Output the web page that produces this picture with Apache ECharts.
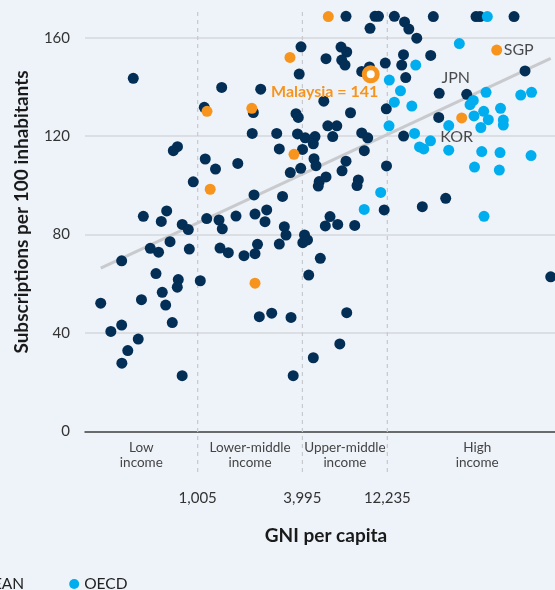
<!DOCTYPE html>
<html>
<head>
<meta charset="utf-8">
<script src="https://cdn.jsdelivr.net/npm/echarts@6/dist/echarts.min.js"></script>
<style>html,body{margin:0;padding:0;background:#eef3f9;}#c{width:555px;height:590px;}</style>
</head>
<body>
<div id="c"></div>
<script>
// ---- Data (GNI per capita in US$, subscriptions per 100 inhabitants) ----
const otherGni = [430,1379,1096,770,729,1110,1271,1705,948,668,
491,622,1132,1331,1665,820,888,1390,698,538,
600,900,369,1349,1505,1850,580,778,768,1040,
280,479,630,659,719,369,320,459,400,370,
819,2139,2440,2496,3148,3219,5748,5403,6362,7960,
4108,4017,4273,2211,2139,2946,5058,4342,2264,2666,
3438,7164,6540,4612,3539,7098,10400,10890,13420,9740,
15350,16240,18030,22430,39380,41510,65000,3922,6645,7164,
5453,6707,7005,3830,8730,9670,11910,15140,14790,21670,
15590,2306,5297,2092,3672,3784,7532,12070,5584,6286,
5957,2062,2847,3746,4146,4716,4612,2946,4001,8730,
9447,9033,15160,4655,4779,3907,3406,7098,6734,12100,
4985,5453,4925,8347,8206,2111,3074,11740,19400,26410,
75120,24240,34830,24080,105400];
const otherSubs = [143.5,139.8,131.7,115.7,114.1,110.7,106.6,108.9,101.4,89.6,
87.4,85.3,86.5,85.9,87.5,84.1,82.0,82.3,77.1,74.4,
72.8,74.1,69.3,74.5,72.6,71.4,64.1,61.7,58.6,61.2,
52.1,53.5,56.5,51.3,44.2,43.2,40.6,37.5,32.8,27.7,
22.6,88.3,85.2,90.0,83.2,79.8,87.3,83.5,84.1,83.7,
79.8,76.7,77.8,76.0,72.2,76.1,70.3,63.5,46.6,48.0,
46.3,48.2,35.5,29.9,22.6,168.7,168.7,168.7,168.7,163.8,
166.4,163.5,159.8,168.6,168.6,168.6,168.6,156.3,156.2,154.2,
151.5,150.9,148.9,145.2,146.3,148.1,149.7,153.1,148.9,152.8,
143.8,139.1,134.2,129.6,129.1,127.6,129.5,131.1,124.2,124.2,
119.8,121.1,121.1,120.9,119.3,119.8,116.9,114.8,114.6,121.3,
119.3,114.1,120.0,110.8,108.0,106.9,105.2,109.8,105.9,107.9,
101.5,103.4,99.7,102.2,99.9,96.1,95.5,90.0,91.3,94.7,
146.5,137.4,137.0,127.6,62.8];

const aseanGni = [1136,1185,2051,2139,5621,3392,3576,32610,51720];
const aseanSubs = [130.1,98.4,131.3,60.2,168.6,152.0,112.6,127.4,155.0];

const oecdGni = [12560,14550,13420,16890,12510,17790,31600,17510,21610,18700,
19770,27480,27480,44930,36390,37990,38350,43580,46300,41950,
54380,56420,56420,70980,81860,42450,54020,81330,38600,53530,
45700,11210,9020,43750];
const oecdSubs = [142.8,138.4,133.8,132.2,124.2,148.9,157.6,121.1,118.1,115.6,
114.8,124.3,114.3,137.8,132.8,134.5,128.2,130.1,126.7,123.5,
131.3,126.5,124.5,136.7,137.8,113.7,113.3,112.1,107.4,106.2,
168.6,97.1,90.2,87.4];

const malaysiaGni = [9830];
const malaysiaSubs = [145.1];
const malaysiaLabel = 'Malaysia = 141';

const calloutNames = ['SGP','JPN','KOR'];
const calloutGni = [51720, 34830, 32610];
const calloutSubs = [155.0, 137.0, 127.4];

const trendGni = [280, 105400];
const trendSubs = [66.3, 151.6];

const thresholds = [1005, 3995, 12235];
const thresholdLabels = ['1,005', '3,995', '12,235'];
const incomeGroups = ['Low\nincome', 'Lower-middle\nincome', 'Upper-middle\nincome', 'High\nincome'];
const yTicks = [0, 40, 80, 120, 160];

// ---- Styles ----
const NAVY = '#032e55', ORANGE = '#f7941d', BLUE = '#00aeef';
const FONT = 'Lato';
const calloutOffsets = { SGP: [22, 0], JPN: [-11, -16.5], KOR: [-5, 18.7] };
const xMin = 227.6, xMax = 111500, yMax = 172;
const highEdge = 130650; // notional right edge of the "High income" band

const zip = (a, b) => a.map((v, i) => [v, b[i]]);

const chart = echarts.init(document.getElementById('c'), null, { renderer: 'canvas' });

const option = {
  backgroundColor: '#eef3f9',
  animation: false,
  textStyle: { fontFamily: FONT },
  grid: { left: 85, right: 0, top: 8.2, bottom: 158.7 },
  xAxis: {
    type: 'log', logBase: 10, min: xMin, max: xMax,
    axisLine: { show: true, onZero: false, lineStyle: { color: '#444', width: 1.5 } },
    axisTick: { show: false }, axisLabel: { show: false }, splitLine: { show: false }
  },
  yAxis: {
    type: 'value', min: 0, max: yMax, interval: 40,
    axisLine: { show: false }, axisTick: { show: false },
    axisLabel: { fontSize: 15, color: '#333', margin: 15, fontFamily: FONT,
      showMaxLabel: false,
      formatter: v => (yTicks.indexOf(v) >= 0 ? String(v) : '') },
    splitLine: { lineStyle: { color: ['#d4d7db', '#d4d7db', '#d4d7db', '#d4d7db', '#d4d7db', 'rgba(0,0,0,0)'], width: 1.5 } }
  },
  legend: {
    data: ['ASEAN', 'OECD'], left: -46, top: 571, icon: 'circle',
    itemWidth: 10, itemHeight: 10, itemGap: 45,
    textStyle: { fontSize: 15.5, color: '#222', fontFamily: FONT }
  },
  series: [
    { type: 'line', name: 'trend', data: zip(trendGni, trendSubs), symbol: 'none',
      lineStyle: { color: '#c8cacd', width: 3 }, z: 1, silent: true },
    { type: 'scatter', name: 'Other', data: zip(otherGni, otherSubs), symbolSize: 11,
      itemStyle: { color: NAVY, opacity: 1 } },
    { type: 'scatter', name: 'OECD', data: zip(oecdGni, oecdSubs), symbolSize: 11,
      itemStyle: { color: BLUE, opacity: 1 } },
    { type: 'scatter', name: 'ASEAN', data: zip(aseanGni, aseanSubs), symbolSize: 11,
      itemStyle: { color: ORANGE, opacity: 1 } },
    { type: 'scatter', name: 'Malaysia', data: zip(malaysiaGni, malaysiaSubs), symbolSize: 13,
      itemStyle: { color: '#ffffff', borderColor: ORANGE, borderWidth: 5, opacity: 1 },
      label: { show: true, position: 'inside', offset: [-46, 17.4], formatter: malaysiaLabel,
        color: ORANGE, fontWeight: 'bold', fontSize: 16, fontFamily: FONT }, z: 4 },
    { type: 'scatter', name: 'callouts', symbolSize: 0, silent: true, z: 5,
      data: calloutNames.map((n, i) => ({ name: n, value: [calloutGni[i], calloutSubs[i]],
        label: { offset: calloutOffsets[n] } })),
      label: { show: true, position: 'inside', formatter: p => p.name,
        color: '#1e1e1e', fontSize: 16, fontFamily: FONT } }
  ]
};
chart.setOption(option);

const gx = v => chart.convertToPixel({ xAxisIndex: 0 }, v);
const xs = thresholds.map(gx);
const edges = [gx(xMin)].concat(xs, [gx(highEdge)]);
const graphics = [];
xs.forEach((x, i) => {
  graphics.push({ type: 'line', z: 1, silent: true,
    shape: { x1: x, y1: 12, x2: x, y2: 473 },
    style: { stroke: '#c6c9cd', lineWidth: 1.2, lineDash: [4, 4] } });
  graphics.push({ type: 'text', z: 3, x: x, y: 498,
    style: { text: thresholdLabels[i], textAlign: 'center', textVerticalAlign: 'middle',
      font: '15px ' + FONT, fill: '#333' } });
});
incomeGroups.forEach((t, i) => {
  graphics.push({ type: 'text', z: 3, x: (edges[i] + edges[i + 1]) / 2, y: 440,
    style: { text: t, textAlign: 'center', textVerticalAlign: 'top', lineHeight: 15,
      font: '13.5px ' + FONT, fill: '#444' } });
});
graphics.push({ type: 'text', z: 3, x: 326, y: 536,
  style: { text: 'GNI per capita', textAlign: 'center', textVerticalAlign: 'middle',
    font: 'bold 19px ' + FONT, fill: '#1a1a1a' } });
graphics.push({ type: 'text', z: 3, x: 22, y: 212, rotation: Math.PI / 2,
  style: { text: 'Subscriptions per 100 inhabitants', textAlign: 'center', textVerticalAlign: 'middle',
    font: 'bold 19px ' + FONT, fill: '#1a1a1a' } });
chart.setOption({ graphic: graphics });
</script>
</body>
</html>
